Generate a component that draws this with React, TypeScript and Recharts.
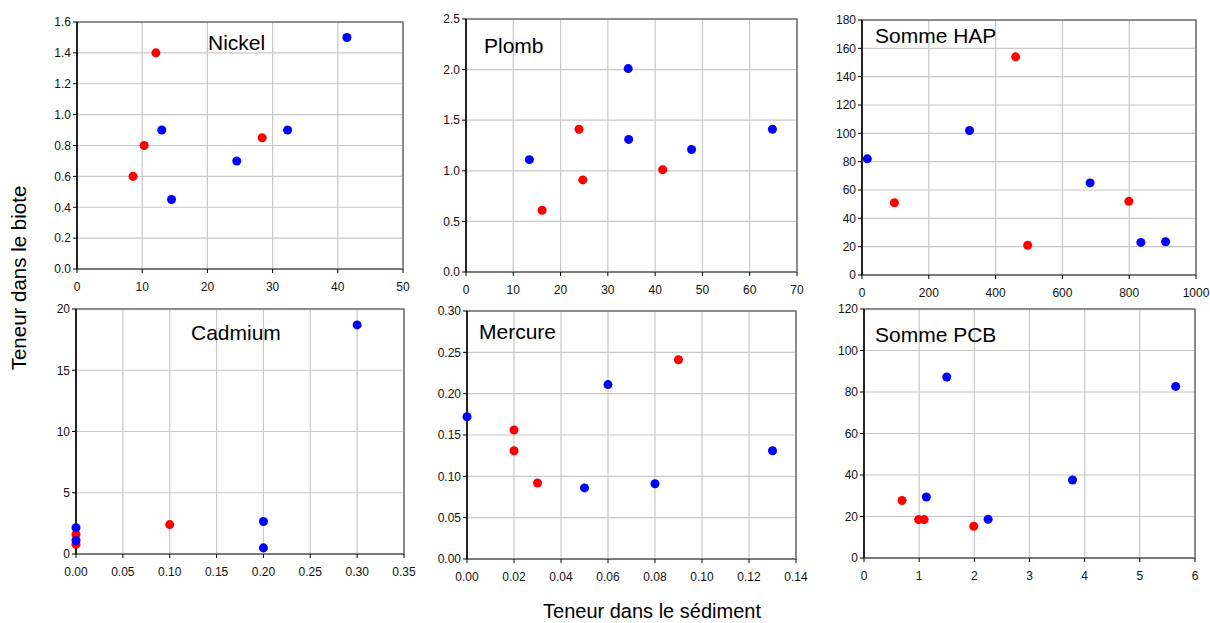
import { ScatterChart, Scatter, XAxis, YAxis, ZAxis, CartesianGrid, ReferenceArea } from "recharts";

// valeurs : [teneur sédiment, teneur biote]
const nickelRouge = [[8.6, 0.6], [10.3, 0.8], [12.1, 1.4], [28.4, 0.85]];
const nickelBleu = [[13.0, 0.9], [14.5, 0.45], [24.5, 0.7], [32.3, 0.9], [41.4, 1.5]];

const plombRouge = [[16.1, 0.61], [23.9, 1.41], [24.7, 0.91], [41.6, 1.01]];
const plombBleu = [[13.4, 1.11], [34.3, 2.01], [34.4, 1.31], [47.7, 1.21], [64.8, 1.41]];

const hapRouge = [[97, 51], [460, 154], [496, 21], [799, 52]];
const hapBleu = [[16, 82], [322, 102], [683, 65], [835, 23], [909, 23.5]];

const cadmiumRouge = [[0, 0.8], [0, 1.6], [0.1, 2.4]];
const cadmiumBleu = [[0, 2.15], [0, 1.1], [0.2, 2.65], [0.2, 0.5], [0.3, 18.7]];

const mercureRouge = [[0.02, 0.156], [0.02, 0.131], [0.03, 0.092], [0.09, 0.241]];
const mercureBleu = [[0, 0.172], [0.05, 0.086], [0.06, 0.211], [0.08, 0.091], [0.13, 0.131]];

const pcbRouge = [[0.69, 27.7], [0.99, 18.5], [1.09, 18.5], [1.99, 15.3]];
const pcbBleu = [[1.13, 29.4], [1.5, 87.2], [2.25, 18.7], [3.78, 37.6], [5.65, 82.7]];

// graduations
const nickelX = [0, 10, 20, 30, 40, 50];
const nickelY = [0, 0.2, 0.4, 0.6, 0.8, 1.0, 1.2, 1.4, 1.6];
const plombX = [0, 10, 20, 30, 40, 50, 60, 70];
const plombY = [0, 0.5, 1.0, 1.5, 2.0, 2.5];
const hapX = [0, 200, 400, 600, 800, 1000];
const hapY = [0, 20, 40, 60, 80, 100, 120, 140, 160, 180];
const cadmiumX = [0, 0.05, 0.1, 0.15, 0.2, 0.25, 0.3, 0.35];
const cadmiumY = [0, 5, 10, 15, 20];
const mercureX = [0, 0.02, 0.04, 0.06, 0.08, 0.1, 0.12, 0.14];
const mercureY = [0, 0.05, 0.1, 0.15, 0.2, 0.25, 0.3];
const pcbX = [0, 1, 2, 3, 4, 5, 6];
const pcbY = [0, 20, 40, 60, 80, 100, 120];

const FONT = "'Liberation Sans', Arial, sans-serif";

const toPts = (arr: number[][]) => arr.map(([x, y]) => ({ x, y }));

interface PanneauProps {
  titre: string;
  box: { x: number; y: number; w: number; h: number };
  titrePos: { left: number; top: number };
  rouge: number[][];
  bleu: number[][];
  ticksX: number[];
  ticksY: number[];
  decX?: number;
  decY?: number;
}

const Panneau = ({ titre, box, titrePos, rouge, bleu, ticksX, ticksY, decX = 0, decY = 0 }: PanneauProps) => {
  const xMax = ticksX[ticksX.length - 1];
  const yMax = ticksY[ticksY.length - 1];
  const tickStyle = { fontSize: 12, fill: "#111", fontFamily: FONT };
  return (
    <>
      <div style={{ position: "absolute", left: box.x - 50, top: box.y - 10 }}>
        <ScatterChart
          width={box.w + 65}
          height={box.h + 45}
          margin={{ top: 10, right: 15, bottom: 0, left: 0 }}
        >
          <CartesianGrid stroke="#c8c8c8" strokeWidth={1.2} />
          <XAxis
            type="number"
            dataKey="x"
            domain={[0, xMax]}
            ticks={ticksX}
            height={35}
            tick={tickStyle}
            tickFormatter={(v: number) => v.toFixed(decX)}
            tickSize={4}
            tickMargin={9}
            axisLine={{ stroke: "#7a7a7a", strokeWidth: 2 }}
            tickLine={{ stroke: "#000" }}
            interval={0}
          />
          <YAxis
            type="number"
            dataKey="y"
            domain={[0, yMax]}
            ticks={ticksY}
            width={50}
            tick={tickStyle}
            tickFormatter={(v: number) => v.toFixed(decY)}
            tickSize={4}
            tickMargin={2}
            axisLine={{ stroke: "#000", strokeWidth: 1.5 }}
            tickLine={{ stroke: "#000" }}
            interval={0}
          />
          <ZAxis range={[82, 82]} />
          <ReferenceArea x1={0} x2={xMax} y1={0} y2={yMax} fill="none" stroke="#707070" strokeWidth={1.5} />
          <Scatter data={toPts(rouge)} fill="#ff0000" shape="circle" isAnimationActive={false} />
          <Scatter data={toPts(bleu)} fill="#0000ff" shape="circle" isAnimationActive={false} />
        </ScatterChart>
      </div>
      <div
        style={{
          position: "absolute",
          left: titrePos.left,
          top: titrePos.top,
          fontSize: 21,
          lineHeight: 1,
          fontFamily: FONT,
          color: "#000",
          whiteSpace: "nowrap",
        }}
      >
        {titre}
      </div>
    </>
  );
};

export default function App() {
  return (
    <div
      style={{
        position: "absolute",
        left: 0,
        top: 0,
        width: 1210,
        height: 623,
        background: "#fff",
        fontFamily: FONT,
        overflow: "hidden",
      }}
    >
      <Panneau
        titre="Nickel"
        box={{ x: 77, y: 22, w: 326, h: 247 }}
        titrePos={{ left: 208, top: 31.5 }}
        rouge={nickelRouge}
        bleu={nickelBleu}
        ticksX={nickelX}
        ticksY={nickelY}
        decY={1}
      />
      <Panneau
        titre="Plomb"
        box={{ x: 466, y: 19, w: 331, h: 253 }}
        titrePos={{ left: 484, top: 34.5 }}
        rouge={plombRouge}
        bleu={plombBleu}
        ticksX={plombX}
        ticksY={plombY}
        decY={1}
      />
      <Panneau
        titre="Somme HAP"
        box={{ x: 862, y: 20, w: 334, h: 255 }}
        titrePos={{ left: 875, top: 24.5 }}
        rouge={hapRouge}
        bleu={hapBleu}
        ticksX={hapX}
        ticksY={hapY}
      />
      <Panneau
        titre="Cadmium"
        box={{ x: 76, y: 309, w: 328, h: 245 }}
        titrePos={{ left: 191, top: 322 }}
        rouge={cadmiumRouge}
        bleu={cadmiumBleu}
        ticksX={cadmiumX}
        ticksY={cadmiumY}
        decX={2}
      />
      <Panneau
        titre="Mercure"
        box={{ x: 467, y: 311, w: 329, h: 248 }}
        titrePos={{ left: 479, top: 320.5 }}
        rouge={mercureRouge}
        bleu={mercureBleu}
        ticksX={mercureX}
        ticksY={mercureY}
        decX={2}
        decY={2}
      />
      <Panneau
        titre="Somme PCB"
        box={{ x: 864, y: 309, w: 331, h: 249 }}
        titrePos={{ left: 875, top: 324 }}
        rouge={pcbRouge}
        bleu={pcbBleu}
        ticksX={pcbX}
        ticksY={pcbY}
      />
      <div
        style={{
          position: "absolute",
          left: 19,
          top: 278,
          transform: "translate(-50%, -50%) rotate(-90deg)",
          fontSize: 20.5,
          whiteSpace: "nowrap",
          lineHeight: 1,
        }}
      >
        Teneur dans le biote
      </div>
      <div
        style={{
          position: "absolute",
          left: 652,
          top: 601,
          transform: "translateX(-50%)",
          fontSize: 20,
          whiteSpace: "nowrap",
          lineHeight: 1,
        }}
      >
        Teneur dans le sédiment
      </div>
    </div>
  );
}
